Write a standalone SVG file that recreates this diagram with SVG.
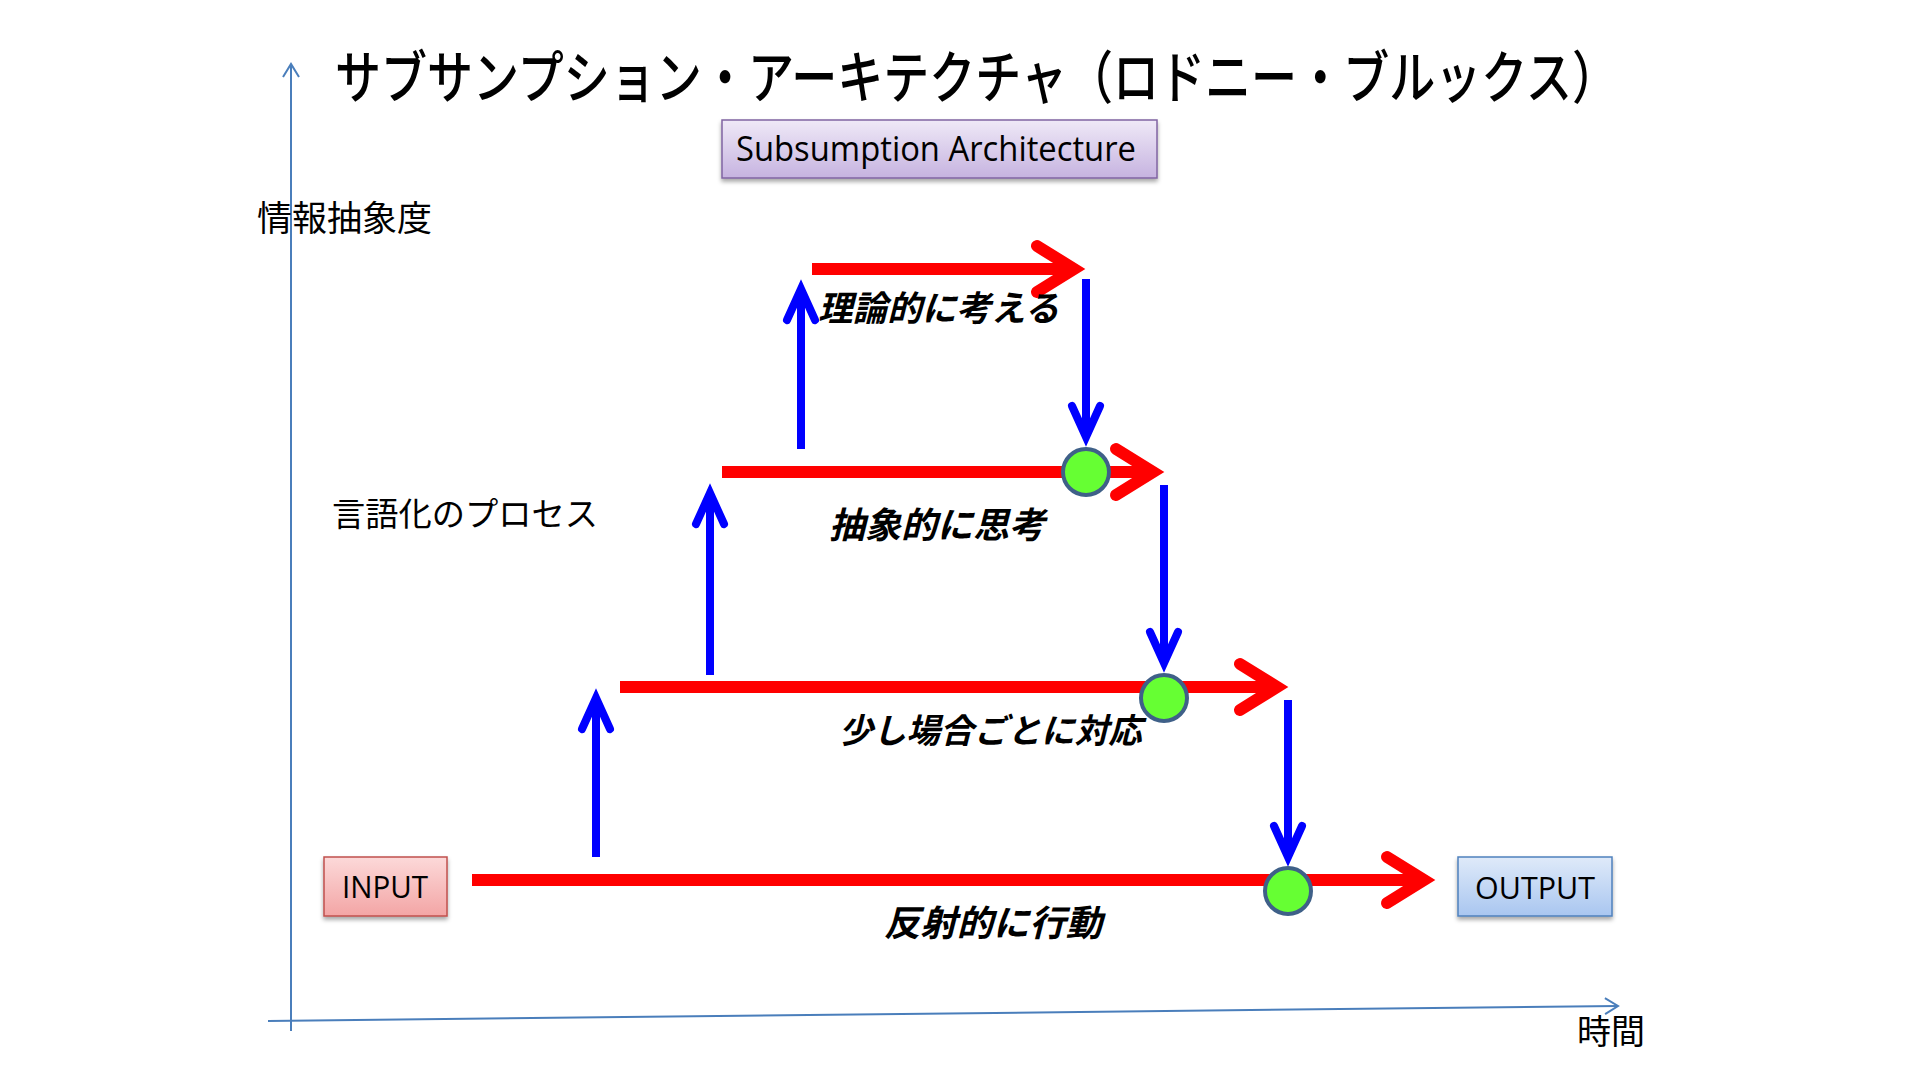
<svg xmlns="http://www.w3.org/2000/svg" width="1920" height="1080" viewBox="0 0 1920 1080">
<style>
.jp{font-family:"Noto Sans CJK JP","Noto Sans",sans-serif;fill:#000}
.title{font-family:"Noto Sans CJK JP","Noto Sans",sans-serif;font-weight:500;fill:#000}
.lbl{font-family:"Noto Sans CJK JP","Noto Sans",sans-serif;font-weight:bold;font-style:italic;fill:#000}
.en{font-family:"Open Sans","Liberation Sans",sans-serif;fill:#000}
.axis{stroke:#4a7ebb;stroke-width:2;fill:none}
.red{stroke:#ff0000;stroke-width:12;fill:none}
.blue{stroke:#0000ff;stroke-width:8;fill:none}
.dot{fill:#66ff33;stroke:#3f6088;stroke-width:4}
</style>
<defs>
<linearGradient id="gPurple" x1="0" y1="0" x2="0" y2="1"><stop offset="0" stop-color="#efe9f7"/><stop offset="1" stop-color="#c6b3e0"/></linearGradient>
<linearGradient id="gRed" x1="0" y1="0" x2="0" y2="1"><stop offset="0" stop-color="#fcd9d9"/><stop offset="1" stop-color="#f3a5a5"/></linearGradient>
<linearGradient id="gBlue" x1="0" y1="0" x2="0" y2="1"><stop offset="0" stop-color="#dfeaf9"/><stop offset="1" stop-color="#a9c6f0"/></linearGradient>
<filter id="shadow" x="-10%" y="-20%" width="120%" height="150%"><feDropShadow dx="0" dy="3" stdDeviation="2" flood-color="#000" flood-opacity="0.35"/></filter>
<marker id="redHead" markerUnits="userSpaceOnUse" orient="auto" refX="0" refY="0" markerWidth="1" markerHeight="1" overflow="visible">
<path d="M-37,-23 L0,0 L-37,23" fill="none" stroke="#ff0000" stroke-width="12" stroke-linecap="round" stroke-linejoin="miter"/>
</marker>
<marker id="blueHead" markerUnits="userSpaceOnUse" orient="auto" refX="0" refY="0" markerWidth="1" markerHeight="1" overflow="visible">
<path d="M-31,-14 L0,0 L-31,14" fill="none" stroke="#0000ff" stroke-width="8" stroke-linecap="round" stroke-linejoin="miter"/>
</marker>
<marker id="axisHead" markerUnits="userSpaceOnUse" orient="auto" refX="0" refY="0" markerWidth="1" markerHeight="1" overflow="visible">
<path d="M-13,-8 L0,0 L-13,8" fill="none" stroke="#4a7ebb" stroke-width="2"/>
</marker>
</defs>
<rect width="1920" height="1080" fill="#ffffff"/>

<g id="axes">
<line class="axis" x1="291" y1="1031" x2="291" y2="64" marker-end="url(#axisHead)"/>
<line class="axis" x1="268" y1="1021" x2="1618" y2="1006" marker-end="url(#axisHead)"/>
</g>

<g id="title">
<text class="title" x="335" y="98" font-size="57" textLength="1283" lengthAdjust="spacingAndGlyphs">サブサンプション・アーキテクチャ（ロドニー・ブルックス）</text>
</g>

<g id="subsumption">
<rect x="722" y="120" width="435" height="58" fill="url(#gPurple)" stroke="#8064a2" stroke-width="1.5" filter="url(#shadow)"/>
<text class="en" x="736" y="161" font-size="34" textLength="400" lengthAdjust="spacingAndGlyphs">Subsumption Architecture</text>
</g>

<g id="axis-labels">
<text class="jp" x="257" y="231" font-size="35" textLength="175" lengthAdjust="spacingAndGlyphs">情報抽象度</text>
<text class="jp" x="332" y="526" font-size="33.5" textLength="266" lengthAdjust="spacingAndGlyphs">言語化のプロセス</text>
<text class="jp" x="1577" y="1044" font-size="34" textLength="68" lengthAdjust="spacingAndGlyphs">時間</text>
</g>

<g id="input">
<rect x="324" y="857" width="123" height="59" fill="url(#gRed)" stroke="#c0504d" stroke-width="1.5" filter="url(#shadow)"/>
<text class="en" x="342" y="898" font-size="31" textLength="86" lengthAdjust="spacingAndGlyphs">INPUT</text>
</g>

<g id="output">
<rect x="1458" y="857" width="154" height="59" fill="url(#gBlue)" stroke="#4f81bd" stroke-width="1.5" filter="url(#shadow)"/>
<text class="en" x="1475" y="899" font-size="31" textLength="120" lengthAdjust="spacingAndGlyphs">OUTPUT</text>
</g>

<g id="connectors">
<line class="red" x1="812" y1="269" x2="1074" y2="269" marker-end="url(#redHead)"/>
<line class="red" x1="722" y1="472" x2="1153" y2="472" marker-end="url(#redHead)"/>
<line class="red" x1="620" y1="687" x2="1277" y2="687" marker-end="url(#redHead)"/>
<line class="red" x1="472" y1="880" x2="1424" y2="880" marker-end="url(#redHead)"/>

<line class="blue" x1="596" y1="857" x2="596" y2="698" marker-end="url(#blueHead)"/>
<line class="blue" x1="710" y1="675" x2="710" y2="493" marker-end="url(#blueHead)"/>
<line class="blue" x1="801" y1="449" x2="801" y2="289" marker-end="url(#blueHead)"/>
<line class="blue" x1="1086" y1="279" x2="1086" y2="437" marker-end="url(#blueHead)"/>
<line class="blue" x1="1164" y1="485" x2="1164" y2="663" marker-end="url(#blueHead)"/>
<line class="blue" x1="1288" y1="700" x2="1288" y2="857" marker-end="url(#blueHead)"/>
</g>

<g id="junctions">
<circle class="dot" cx="1086" cy="472" r="23"/>
<circle class="dot" cx="1164" cy="698" r="23"/>
<circle class="dot" cx="1288" cy="891" r="23"/>
</g>

<g id="layer-labels">
<text class="lbl" x="818" y="321" font-size="35" textLength="241" lengthAdjust="spacingAndGlyphs">理論的に考える</text>
<text class="lbl" x="829" y="538" font-size="36" textLength="216" lengthAdjust="spacingAndGlyphs">抽象的に思考</text>
<text class="lbl" x="839" y="743" font-size="34" textLength="303" lengthAdjust="spacingAndGlyphs">少し場合ごとに対応</text>
<text class="lbl" x="884" y="936" font-size="36" textLength="218" lengthAdjust="spacingAndGlyphs">反射的に行動</text>
</g>
</svg>
